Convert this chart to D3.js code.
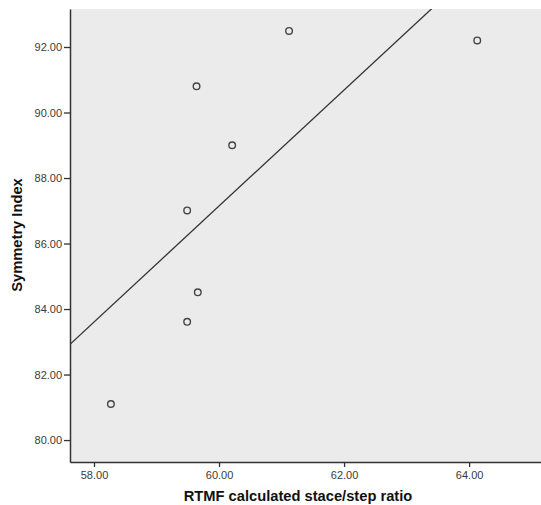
<!DOCTYPE html>
<html>
<head>
<meta charset="utf-8">
<script src="https://cdn.jsdelivr.net/npm/d3@7"></script>
<style>
  body { margin: 0; background: #fff; }
  .tick text { font-family: Arial, "Liberation Sans", sans-serif; font-size: 11px; fill: #3a3a3a; }
  .axis-title { font-family: Arial, "Liberation Sans", sans-serif; font-size: 14.7px; font-weight: bold; fill: #111; }
</style>
</head>
<body>
<div id="chart"></div>
<script>
/* CONSTANTS */
const width = 541,
  height = 505,
  margin = { top: 9, bottom: 43, left: 70, right: 0 };

/* DATA */
const ratio = [58.27, 59.49, 59.66, 59.49, 59.64, 60.21, 61.12, 64.13];
const symmetry = [81.10, 83.61, 84.51, 87.01, 90.80, 89.00, 92.49, 92.20];
const xTicks = [58, 60, 62, 64];
const yTicks = [80, 82, 84, 86, 88, 90, 92];

const points = ratio.map((r, i) => ({ x: r, y: symmetry[i] }));

// scales
const xScale = d3.scaleLinear()
  .domain([57.616, 65.15])
  .range([margin.left, width - margin.right]);

const yScale = d3.scaleLinear()
  .domain([79.33, 93.16])
  .range([height - margin.bottom, margin.top]);

const svg = d3.select("#chart")
  .append("svg")
  .attr("width", width)
  .attr("height", height);

// plot background
svg.append("rect")
  .attr("x", margin.left)
  .attr("y", margin.top)
  .attr("width", width - margin.right - margin.left)
  .attr("height", height - margin.bottom - margin.top)
  .attr("fill", "#ebebeb");

// least squares fit line
const mx = d3.mean(points, d => d.x),
  my = d3.mean(points, d => d.y);
const slope = d3.sum(points, d => (d.x - mx) * (d.y - my)) / d3.sum(points, d => (d.x - mx) ** 2);
const fit = x => my + slope * (x - mx);

svg.append("clipPath").attr("id", "clip")
  .append("rect")
  .attr("x", margin.left)
  .attr("y", margin.top)
  .attr("width", width - margin.right - margin.left)
  .attr("height", height - margin.bottom - margin.top);

const [x0, x1] = xScale.domain();
svg.append("line")
  .attr("clip-path", "url(#clip)")
  .attr("x1", xScale(x0)).attr("y1", yScale(fit(x0)))
  .attr("x2", xScale(x1)).attr("y2", yScale(fit(x1)))
  .attr("stroke", "#333")
  .attr("stroke-width", 1.3);

// points
svg.selectAll("circle.pt")
  .data(points)
  .join("circle")
  .attr("class", "pt")
  .attr("cx", d => xScale(d.x))
  .attr("cy", d => yScale(d.y))
  .attr("r", 3.3)
  .attr("fill", "none")
  .attr("stroke", "#444")
  .attr("stroke-width", 1.4);

// axes
const xAxis = d3.axisBottom(xScale)
  .tickValues(xTicks)
  .tickFormat(d3.format(".2f"))
  .tickSize(5)
  .tickSizeOuter(0);

const yAxis = d3.axisLeft(yScale)
  .tickValues(yTicks)
  .tickFormat(d3.format(".2f"))
  .tickSize(6)
  .tickSizeOuter(0);

const gx = svg.append("g")
  .attr("transform", `translate(0, ${height - margin.bottom})`)
  .call(xAxis);

const gy = svg.append("g")
  .attr("transform", `translate(${margin.left}, 0)`)
  .call(yAxis);

[gx, gy].forEach(g => {
  g.select(".domain").attr("stroke", "#333").attr("stroke-width", 1.5);
  g.selectAll(".tick line").attr("stroke", "#333").attr("stroke-width", 1.3);
});
gx.selectAll(".tick text").attr("dy", "0.85em");
gy.selectAll(".tick text").attr("dx", "0.1em");

// axis titles
svg.append("text")
  .attr("class", "axis-title")
  .attr("x", 298)
  .attr("y", 501)
  .attr("text-anchor", "middle")
  .text("RTMF calculated stace/step ratio");

svg.append("text")
  .attr("class", "axis-title")
  .attr("transform", `translate(22, 235) rotate(-90)`)
  .attr("text-anchor", "middle")
  .text("Symmetry Index");
</script>
</body>
</html>
